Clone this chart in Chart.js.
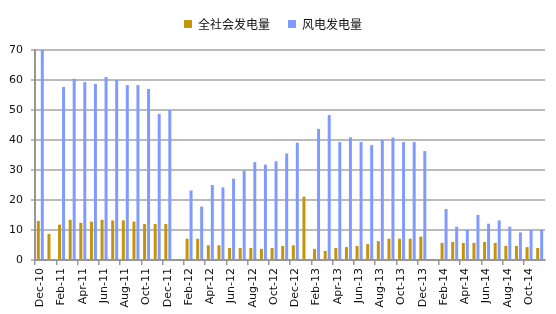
<!DOCTYPE html>
<html>
<head>
<meta charset="utf-8">
<script src="https://cdn.jsdelivr.net/npm/chart.js@4.4.1/dist/chart.umd.min.js"></script>
<style>
  html, body { margin: 0; padding: 0; background: #ffffff; }
  #wrap { position: relative; width: 556px; height: 314px; }
</style>
</head>
<body>
<div id="wrap"><canvas id="c" width="556" height="314"></canvas></div>
<script>
// Monthly categories, Dec-10 .. Nov-14
const months = [
  'Dec-10','Jan-11','Feb-11','Mar-11','Apr-11','May-11','Jun-11','Jul-11','Aug-11','Sep-11','Oct-11','Nov-11',
  'Dec-11','Jan-12','Feb-12','Mar-12','Apr-12','May-12','Jun-12','Jul-12','Aug-12','Sep-12','Oct-12','Nov-12',
  'Dec-12','Jan-13','Feb-13','Mar-13','Apr-13','May-13','Jun-13','Jul-13','Aug-13','Sep-13','Oct-13','Nov-13',
  'Dec-13','Jan-14','Feb-14','Mar-14','Apr-14','May-14','Jun-14','Jul-14','Aug-14','Sep-14','Oct-14','Nov-14'
];

// 全社会发电量 (growth, %)
const totalGen = [
  13.0, 8.7, 11.8, 13.4, 12.4, 12.8, 13.4, 13.2, 13.2, 12.8, 12.0, 12.0,
  12.0, -0.3, 7.1, 7.1, 4.9, 4.9, 4.0, 4.0, 4.0, 3.7, 4.0, 4.7,
  4.9, 21.1, 3.7, 3.0, 4.0, 4.3, 4.7, 5.3, 6.3, 7.1, 7.1, 7.1,
  7.8, null, 5.7, 6.0, 5.7, 5.7, 6.0, 5.7, 4.7, 4.7, 4.3, 4.0
];

// 风电发电量 (growth, %)
const windGen = [
  70.0, null, 57.7, 60.4, 59.3, 58.7, 61.0, 60.0, 58.3, 58.3, 57.0, 48.7,
  50.0, null, 23.2, 17.8, 25.0, 24.2, 27.1, 29.8, 32.6, 31.8, 32.9, 35.5,
  39.1, null, 43.7, 48.3, 39.3, 40.9, 39.3, 38.3, 40.0, 40.8, 39.3, 39.3,
  36.3, null, 17.0, 11.1, 10.1, 15.0, 12.1, 13.2, 11.1, 9.2, 10.1, 10.1
];

const seriesNames = ['全社会发电量', '风电发电量'];
const yTicks = [0, 10, 20, 30, 40, 50, 60, 70];

const GOLD = '#C4940A';
const BLUE = '#7F9BFF';
const GRID = '#BBBBBB';
const AXIS = '#979797';

// Adds empty space below the legend row, above the plot
const legendGap = {
  id: 'legendGap',
  beforeLayout(chart) {
    const lg = chart.legend;
    if (lg && !lg._gapAdded) {
      const fit = lg.fit;
      lg.fit = function () { fit.call(this); this.height += 10; };
      lg._gapAdded = true;
    }
  }
};

new Chart(document.getElementById('c'), {
  type: 'bar',
  data: {
    labels: months,
    datasets: [
      { label: seriesNames[0], data: totalGen, backgroundColor: GOLD, clip: false,
        categoryPercentage: 0.75, barPercentage: 0.75 },
      { label: seriesNames[1], data: windGen, backgroundColor: BLUE,
        categoryPercentage: 0.75, barPercentage: 0.75 }
    ]
  },
  plugins: [legendGap],
  options: {
    responsive: false,
    animation: false,
    layout: { padding: { top: 8, right: 10, left: 0, bottom: 0 } },
    plugins: {
      legend: {
        position: 'top',
        labels: {
          boxWidth: 8, boxHeight: 8, padding: 10,
          color: '#111',
          font: { family: '"Noto Sans CJK SC", sans-serif', size: 12 },
          // wider gap between the two legend entries
          generateLabels: chart => Chart.defaults.plugins.legend.labels.generateLabels(chart)
            .map((item, i) => Object.assign(item, { text: i === 0 ? item.text + '   ' : item.text }))
        }
      },
      tooltip: { enabled: false }
    },
    scales: {
      x: {
        offset: true,
        grid: {
          offset: true,
          drawOnChartArea: false,
          drawTicks: true,
          tickLength: 5,
          lineWidth: 1.5,
          tickColor: ctx => (ctx.index % 2 === 0 ? AXIS : 'rgba(0,0,0,0)')
        },
        border: { color: AXIS, width: 2 },
        ticks: {
          autoSkip: false,
          minRotation: 90,
          maxRotation: 90,
          padding: 3,
          color: '#111',
          font: { family: '"DejaVu Sans", sans-serif', size: 11 },
          callback: (v, i) => (i % 2 === 0 ? months[i] : '')
        },
        afterFit: s => { s.height = 54; }
      },
      y: {
        min: yTicks[0],
        max: yTicks[yTicks.length - 1],
        grid: { color: GRID, lineWidth: 2, tickLength: 4, tickColor: GRID },
        border: { color: AXIS, width: 2 },
        ticks: {
          stepSize: 10,
          padding: 8,
          color: '#111',
          font: { family: '"DejaVu Sans", sans-serif', size: 11 }
        },
        afterFit: s => { s.width = 35; }
      }
    }
  }
});
</script>
</body>
</html>
